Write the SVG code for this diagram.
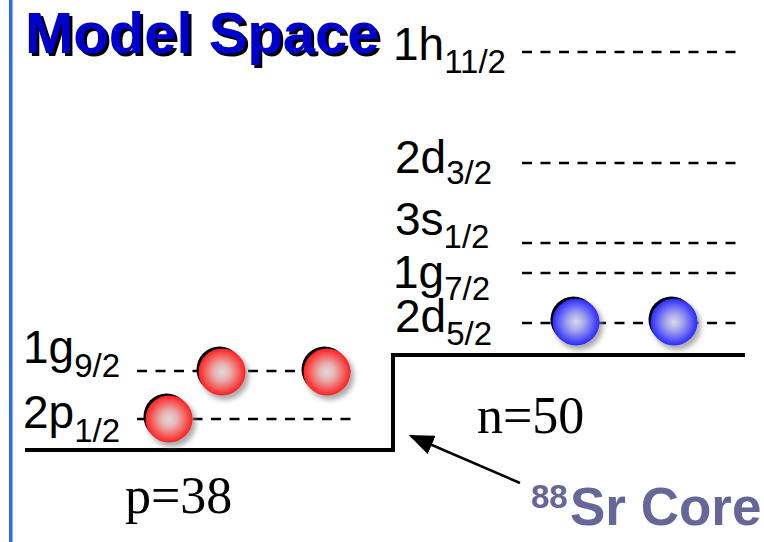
<svg xmlns="http://www.w3.org/2000/svg" width="764" height="542" viewBox="0 0 764 542">
<defs>
<style>
.lbl{font-family:"Liberation Sans",Arial,sans-serif;font-size:46px;fill:#000}
.sub{font-size:33px}
.dash{fill:none;stroke:#000;stroke-width:2.5;stroke-dasharray:10 8.5}
.tm{font-family:"Liberation Serif","Times New Roman",serif;font-size:52px;fill:#000}
</style>
<radialGradient id="gr" cx="0.5" cy="0.5" r="0.5">
<stop offset="0" stop-color="#dcdcdc"/>
<stop offset="0.35" stop-color="#e8b0b0"/>
<stop offset="1" stop-color="#ff2020"/>
</radialGradient>
<radialGradient id="gb" cx="0.5" cy="0.5" r="0.5">
<stop offset="0" stop-color="#d8d8e4"/>
<stop offset="0.35" stop-color="#a8a8ec"/>
<stop offset="1" stop-color="#2a2aff"/>
</radialGradient>
<filter id="blur" x="-50%" y="-50%" width="200%" height="200%"><feGaussianBlur stdDeviation="2.5"/></filter>
<filter id="tshadow" x="-5%" y="-20%" width="110%" height="140%">
<feOffset in="SourceAlpha" dx="2.5" dy="2.5" result="o"/>
<feMerge><feMergeNode in="o"/><feMergeNode in="SourceGraphic"/></feMerge>
</filter>
<marker id="ah" markerWidth="10" markerHeight="8" refX="9" refY="4" orient="auto" markerUnits="strokeWidth">
<path d="M0,0 L10,4 L0,8 Z" fill="#000"/>
</marker>
<g id="ballR">
<circle cx="3" cy="4" r="24" fill="#888" opacity="0.7" filter="url(#blur)"/>
<circle cx="-2.5" cy="-2.5" r="23" fill="#000"/>
<circle cx="0" cy="0" r="23.5" fill="url(#gr)"/>
</g>
<g id="ballB">
<circle cx="3" cy="4" r="24" fill="#888" opacity="0.7" filter="url(#blur)"/>
<circle cx="-2.5" cy="-2.5" r="23" fill="#000"/>
<circle cx="0" cy="0" r="23.5" fill="url(#gb)"/>
</g>
</defs>
<rect width="764" height="542" fill="#fff"/>
<rect x="9" y="0" width="3.5" height="542" fill="#3366ee"/>

<g id="title">
<text x="25" y="53" font-family="Liberation Sans,Arial,sans-serif" font-weight="bold" font-size="58" fill="#0000cc" filter="url(#tshadow)">Model Space</text>
</g>

<g id="connectors">
<path d="M25,450 H393 V355 H745" fill="none" stroke="#000" stroke-width="4"/>
<line x1="520" y1="483" x2="411" y2="436" stroke="#000" stroke-width="2.5" marker-end="url(#ah)"/>
</g>

<g id="lvl-1h11">
<text class="lbl" x="393" y="60">1h<tspan class="sub" y="73">11/2</tspan></text>
<line class="dash" x1="522" y1="52" x2="737" y2="52"/>
</g>
<g id="lvl-2d32">
<text class="lbl" x="395" y="173">2d<tspan class="sub" y="184">3/2</tspan></text>
<line class="dash" x1="522" y1="163" x2="737" y2="163"/>
</g>
<g id="lvl-3s12">
<text class="lbl" x="395" y="235">3s<tspan class="sub" y="248">1/2</tspan></text>
<line class="dash" x1="522" y1="243" x2="737" y2="243"/>
</g>
<g id="lvl-1g72">
<text class="lbl" x="393" y="288">1g<tspan class="sub" y="300">7/2</tspan></text>
<line class="dash" x1="522" y1="273" x2="737" y2="273"/>
</g>
<g id="lvl-2d52">
<text class="lbl" x="395" y="332">2d<tspan class="sub" y="345">5/2</tspan></text>
<line class="dash" x1="522" y1="323" x2="737" y2="323"/>
</g>
<g id="lvl-1g92">
<text class="lbl" x="23" y="363">1g<tspan class="sub" y="377">9/2</tspan></text>
<line class="dash" x1="137" y1="371" x2="353" y2="371"/>
</g>
<g id="lvl-2p12">
<text class="lbl" x="23" y="428">2p<tspan class="sub" y="442">1/2</tspan></text>
<line class="dash" x1="137" y1="419" x2="353" y2="419"/>
</g>

<g id="proton1"><use href="#ballR" x="222" y="372"/></g>
<g id="proton2"><use href="#ballR" x="327" y="372"/></g>
<g id="proton3"><use href="#ballR" x="169" y="419"/></g>
<g id="neutron1"><use href="#ballB" x="576" y="322"/></g>
<g id="neutron2"><use href="#ballB" x="674" y="322"/></g>

<g id="label-p"><text class="tm" x="125" y="513">p=38</text></g>
<g id="label-n"><text class="tm" x="477" y="433">n=50</text></g>
<g id="label-core">
<text font-family="Liberation Sans,Arial,sans-serif" font-weight="bold" fill="#666699"><tspan x="531" y="508" font-size="33">88</tspan><tspan x="570" y="525" font-size="53">Sr Core</tspan></text>
</g>
</svg>
